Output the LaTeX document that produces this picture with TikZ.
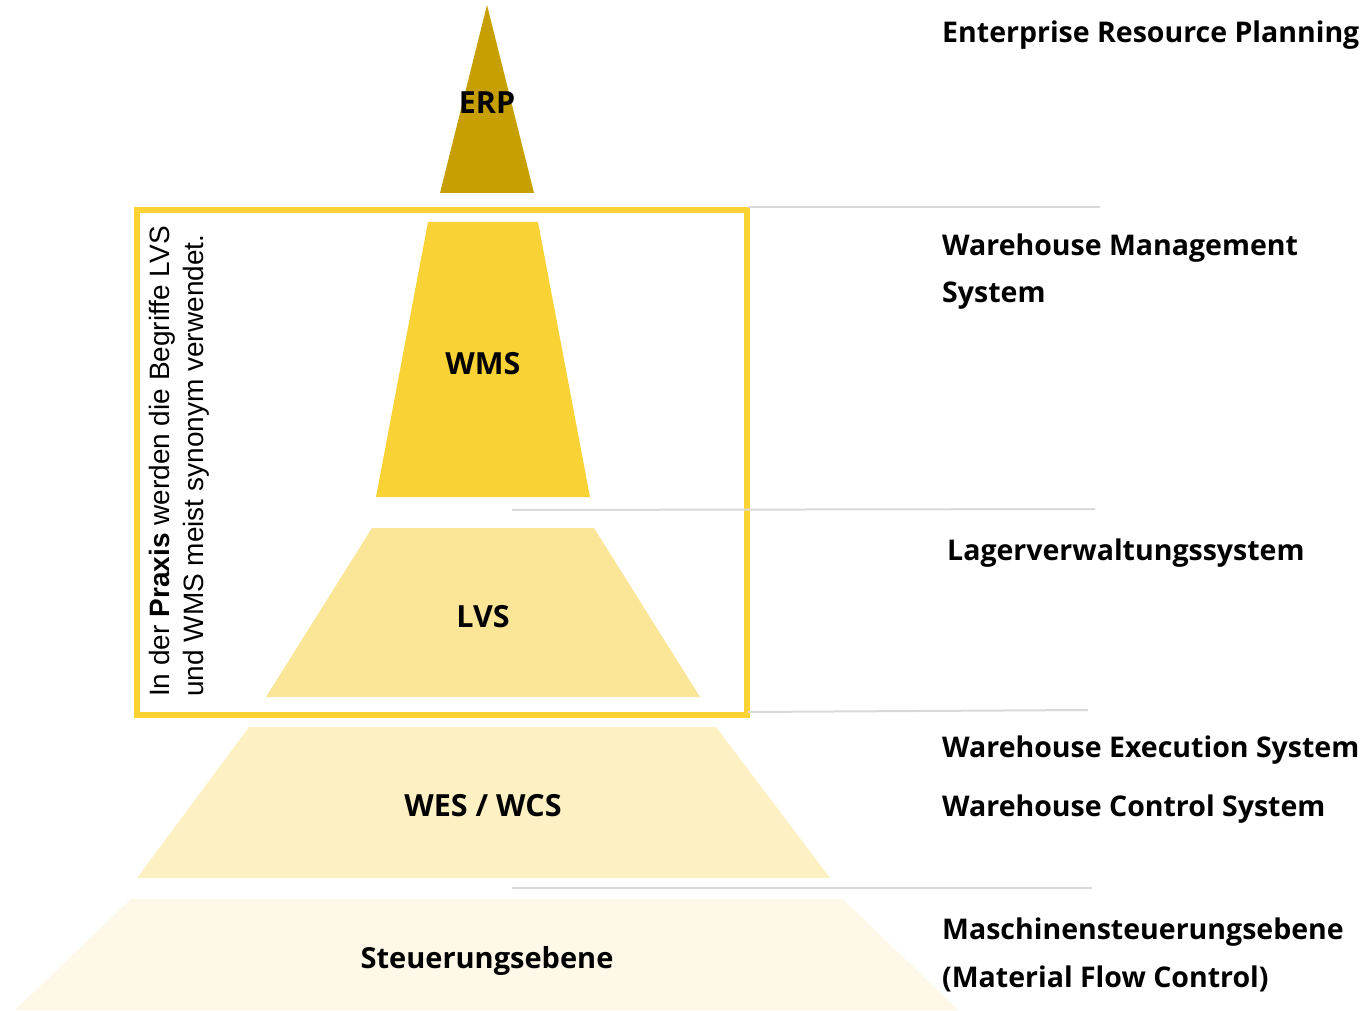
\documentclass[tikz,border=0pt]{standalone}
\usepackage{fontspec}
\IfFontExistsTF{Open Sans SemiBold}{\newfontfamily\lab{Open Sans SemiBold}}{\newfontfamily\lab{Open Sans}[UprightFont={* Bold}]}
\newfontfamily\arialf{Liberation Sans}
\definecolor{erpc}{HTML}{C89F00}
\definecolor{wmsc}{HTML}{F9D236}
\definecolor{lvsc}{HTML}{FBE697}
\definecolor{wesc}{HTML}{FDF0C3}
\definecolor{stc}{HTML}{FEF8E8}
\definecolor{boxc}{HTML}{FDD232}
\definecolor{linec}{HTML}{D9D9D9}
\tikzset{
  lbl/.style={font=\lab\fontsize{30.5}{34}\selectfont, inner sep=0pt, yshift=-2.5pt},
  rlbl/.style={font=\lab\fontsize{28.5}{34}\selectfont, inner sep=0pt, anchor=west, yshift=-2.5pt},
  sep/.style={draw=linec, line width=2pt},
}
\begin{document}
\begin{tikzpicture}[x=1pt,y=-1pt]
\useasboundingbox (0,0) rectangle (1368,1011);
% levels
\fill[erpc] (487,5) -- (534,193) -- (440,193) -- cycle;
\fill[wmsc] (428,222) -- (538,222) -- (590,497) -- (376,497) -- cycle;
\fill[lvsc] (372,528) -- (594,528) -- (700,697) -- (266,697) -- cycle;
\fill[wesc] (249,727) -- (716,727) -- (830,878) -- (137,878) -- cycle;
\fill[stc] (131,899) -- (843,899) -- (958,1010) -- (15,1010) -- cycle;
% frame
\node[draw=boxc, line width=6pt, minimum width=610pt, minimum height=505pt, anchor=north west, inner sep=0pt] (frame) at (134,207) {};
% separator lines
\coordinate (s1a) at (748,207); \coordinate (s1b) at (1100,207);
\coordinate (s2a) at (512,510); \coordinate (s2b) at (1095,509);
\coordinate (s3a) at (748,712); \coordinate (s3b) at (1088,710);
\coordinate (s4a) at (512,888); \coordinate (s4b) at (1092,888);
\draw[sep] (s1a) -- (s1b);
\draw[sep] (s2a) -- (s2b);
\draw[sep] (s3a) -- (s3b);
\draw[sep] (s4a) -- (s4b);
% level labels
\node[lbl] (erp) at (487,100) {ERP};
\node[lbl] (wms) at (483,361) {WMS};
\node[lbl] (lvs) at (483,614) {LVS};
\node[lbl] (wes) at (483,803) {WES / WCS};
\node[lbl, font=\lab\fontsize{29}{34}\selectfont] (st) at (487,958) {Steuerungsebene};
% right labels
\node[rlbl] (r1) at (942,33) {Enterprise Resource Planning};
\node[rlbl] (r2) at (942,246) {Warehouse Management};
\node[rlbl] (r2b) at (942,293) {System};
\node[rlbl] (r3) at (947,551) {Lagerverwaltungssystem};
\node[rlbl] (r4) at (942,748) {Warehouse Execution System};
\node[rlbl] (r5) at (942,807) {Warehouse Control System};
\node[rlbl] (r6) at (942,930) {Maschinensteuerungsebene};
\node[rlbl] (r7) at (942,976) {(Material Flow Control)};
% rotated note
\node[rotate=90, anchor=north west, align=left, inner sep=0pt, font=\arialf\fontsize{28}{34}\selectfont] (note) at (149,697)
  {In der \textbf{Praxis} werden die Begriffe LVS\\und WMS meist synonym verwendet.};
\end{tikzpicture}
\end{document}
